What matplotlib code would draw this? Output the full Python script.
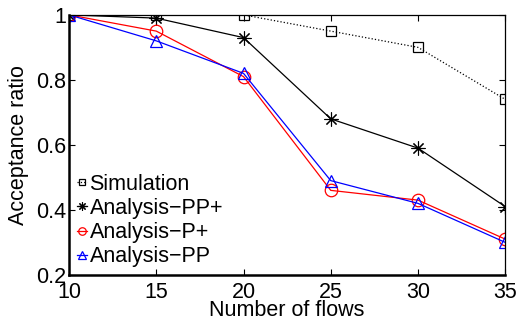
import numpy as np
import matplotlib
matplotlib.use('Agg')
import matplotlib.pyplot as plt

plt.rcParams['font.family'] = ['Liberation Sans', 'DejaVu Sans']

flows = [10, 15, 20, 25, 30, 35]
simulation = [1.0, 1.0, 1.0, 0.95, 0.90, 0.74]
analysis_pp_plus = [1.0, 0.99, 0.93, 0.68, 0.59, 0.41]
analysis_p_plus = [1.0, 0.95, 0.81, 0.46, 0.43, 0.31]
analysis_pp = [1.0, 0.92, 0.82, 0.49, 0.42, 0.30]

fig = plt.figure(figsize=(5.23, 3.23), dpi=100)
ax = fig.add_axes([0.132, 0.149, 0.834, 0.805])

star = (8, 2, 0)   # matlab-like asterisk
ax.plot(flows, simulation, color='k', ls=':', lw=0.9, marker='s', ms=6.5,
        mfc='none', mew=0.9, label='Simulation')
ax.plot(flows, analysis_pp_plus, color='k', lw=0.9, marker=star, ms=10,
        mfc='none', mew=0.8, label='Analysis\u2212PP+')
ax.plot(flows, analysis_p_plus, color='r', lw=0.9, marker='o', ms=9,
        mfc='none', mew=0.9, label='Analysis\u2212P+')
ax.plot(flows, analysis_pp, color='b', lw=0.9, marker='^', ms=9,
        mfc='none', mew=0.9, label='Analysis\u2212PP')

ax.set_xlim(10, 35)
ax.set_ylim(0.2, 1.0)
ax.set_xticks(flows)
ax.set_yticks([0.2, 0.4, 0.6, 0.8, 1.0])
ax.set_yticklabels(['0.2', '0.4', '0.6', '0.8', '1'])
ax.tick_params(direction='in', top=True, right=True, labelsize=15.5, length=4)
ax.tick_params(axis='x', pad=5)
ax.tick_params(axis='y', pad=2)
ax.set_xlabel('Number of flows', fontsize=15.5, labelpad=-2)
ax.set_ylabel('Acceptance ratio', fontsize=15.5, labelpad=5)

for s in ['left', 'bottom']:
    ax.spines[s].set_linewidth(1.8)
for s in ['top', 'right']:
    ax.spines[s].set_linewidth(0.9)

ax.legend(loc='lower left', frameon=False, fontsize=15.5, handlelength=0.5,
          handletextpad=0.1, labelspacing=0.15, borderaxespad=0.15,
          markerscale=0.6, borderpad=0.2)

fig.savefig('out.png', dpi=100)
